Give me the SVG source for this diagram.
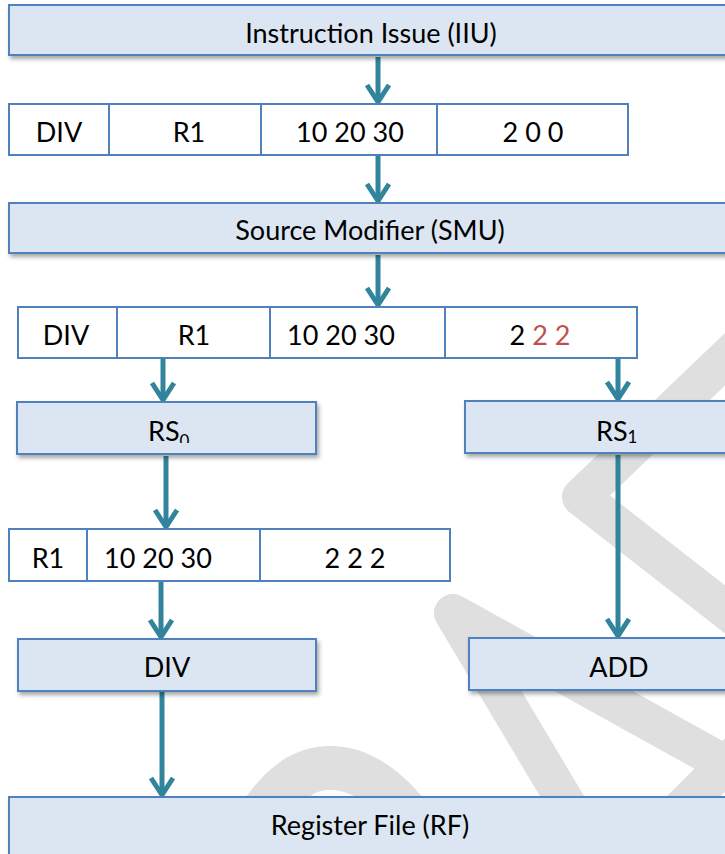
<svg xmlns="http://www.w3.org/2000/svg" width="725" height="854" viewBox="0 0 725 854">
<defs>
<style>
.box{fill:#DCE6F2;stroke:#4F81BD;stroke-width:2;filter:url(#sh)}
.cell{fill:#FFFFFF;stroke:#4F81BD;stroke-width:2}
.t{font-family:Lato,"Open Sans","Liberation Sans",sans-serif;font-size:27px;fill:#000;text-anchor:middle}
.ts{font-family:Lato,"Open Sans","Liberation Sans",sans-serif;font-size:27px;fill:#000;text-anchor:start}
.sub{font-size:17px}
.red{fill:#C0504D}
.wm{fill:none;stroke:#DFDFDF;stroke-width:38;stroke-linejoin:round;stroke-linecap:round}
.ln{fill:none;stroke:#31849B;stroke-width:5;marker-end:url(#ah)}
</style>
<filter id="sh" x="-10%" y="-30%" width="130%" height="180%">
<feDropShadow dx="2" dy="3" stdDeviation="2" flood-color="#000" flood-opacity="0.35"/>
</filter>
<marker id="ah" markerUnits="userSpaceOnUse" orient="auto" markerWidth="40" markerHeight="40" refX="0" refY="0" overflow="visible">
<path d="M -17 -11 L 0 0 L -17 11" fill="none" stroke="#31849B" stroke-width="5" stroke-linejoin="round"/>
</marker>
<clipPath id="cl0"><rect x="100" y="400" width="150" height="43"/></clipPath>
</defs>
<rect x="0" y="0" width="725" height="854" fill="#FFFFFF"/>
<g id="watermark">
<path class="wm" d="M 860 230 L 581 497 L 745 625"/>
<path class="wm" d="M 600 860 L 453 613 L 745 775"/>
<path class="wm" d="M 630 860 L 745 745"/>
<path d="M 236 812 C 268 760 300 746 330 746 C 362 746 398 762 434 812 L 376 812 C 362 798 346 790 330 790 C 314 790 305 798 300 812 Z" fill="#DFDFDF"/>
</g>
<g id="connectors">
<path class="ln" d="M 378 57 L 378 102"/>
<path class="ln" d="M 378 156 L 378 201"/>
<path class="ln" d="M 378 255 L 378 305"/>
<path class="ln" d="M 163 359 L 163 400"/>
<path class="ln" d="M 618 359 L 618 399"/>
<path class="ln" d="M 166 456 L 166 527"/>
<path class="ln" d="M 161 582 L 161 637"/>
<path class="ln" d="M 162 692 L 162 795"/>
<path class="ln" d="M 618 455 L 618 636"/>
</g>
<g id="iiu">
<rect class="box" x="9" y="5" width="730" height="50"/>
<text class="t" x="371" y="43">Instruction Issue (IIU)</text>
</g>
<g id="row1">
<rect class="cell" x="9" y="104" width="100" height="51"/>
<rect class="cell" x="109" y="104" width="152" height="51"/>
<rect class="cell" x="261" y="104" width="176" height="51"/>
<rect class="cell" x="437" y="104" width="191" height="51"/>
<text class="t" x="59" y="142">DIV</text>
<text class="t" x="189" y="142">R1</text>
<text class="t" x="350" y="142">10 20 30</text>
<text class="t" x="533" y="142">2 0 0</text>
</g>
<g id="smu">
<rect class="box" x="9" y="203" width="730" height="50"/>
<text class="t" x="370" y="240">Source Modifier (SMU)</text>
</g>
<g id="row2">
<rect class="cell" x="18" y="307" width="99" height="51"/>
<rect class="cell" x="117" y="307" width="153" height="51"/>
<rect class="cell" x="270" y="307" width="175" height="51"/>
<rect class="cell" x="445" y="307" width="192" height="51"/>
<text class="t" x="66" y="345">DIV</text>
<text class="t" x="194" y="345">R1</text>
<text class="t" x="341" y="345">10 20 30</text>
<text class="t" x="540" y="345">2 <tspan class="red">2 2</tspan></text>
</g>
<g id="rs0">
<rect class="box" x="17" y="402" width="299" height="52"/>
<text class="ts" x="148" y="441" clip-path="url(#cl0)">RS<tspan class="sub" dx="0" dy="6">0</tspan></text>
</g>
<g id="rs1">
<rect class="box" x="465" y="401" width="300" height="52"/>
<text class="ts" x="596" y="441">RS<tspan class="sub" dy="2">1</tspan></text>
</g>
<g id="row3">
<rect class="cell" x="9" y="529" width="78" height="52"/>
<rect class="cell" x="87" y="529" width="173" height="52"/>
<rect class="cell" x="260" y="529" width="190" height="52"/>
<text class="t" x="48" y="568">R1</text>
<text class="t" x="158" y="568">10 20 30</text>
<text class="t" x="355" y="568">2 2 2</text>
</g>
<g id="div">
<rect class="box" x="18" y="639" width="298" height="52"/>
<text class="t" x="167" y="677">DIV</text>
</g>
<g id="add">
<rect class="box" x="469" y="638" width="300" height="52"/>
<text class="t" x="619" y="677">ADD</text>
</g>
<g id="rf">
<rect class="box" x="9" y="797" width="730" height="70"/>
<text class="t" x="370" y="835">Register File (RF)</text>
</g>
</svg>
